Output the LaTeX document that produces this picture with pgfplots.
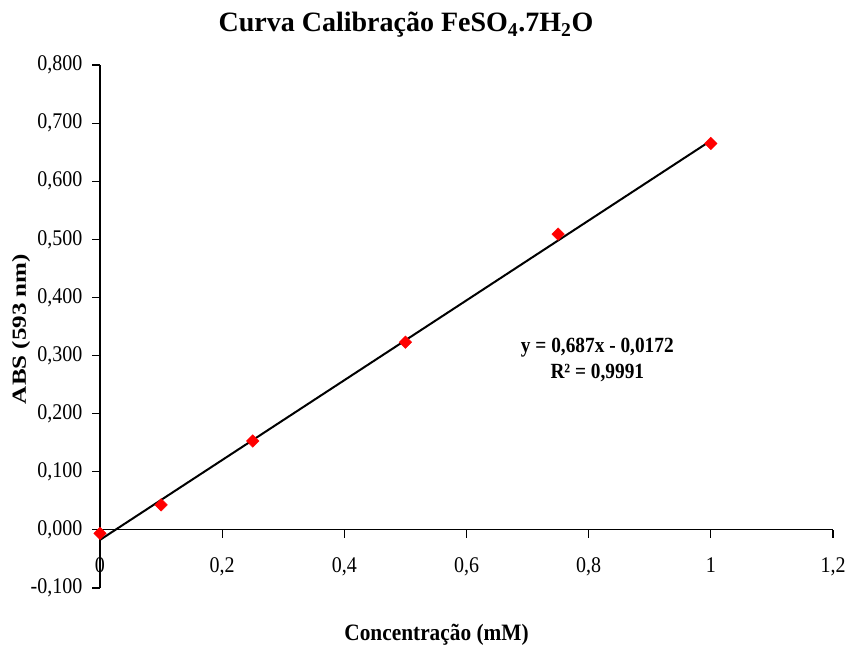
\documentclass[border=0pt]{standalone}
\usepackage{fontspec}
\setmainfont{Liberation Serif}
\usepackage{pgfplots}
\pgfplotsset{compat=1.18}
\begin{document}
\begin{tikzpicture}
\useasboundingbox (-75pt,-45pt) rectangle (558.75pt,441pt);
\begin{axis}[at={(0pt,0pt)}, anchor=south west, scale only axis,
  width=549.75pt, height=392.25pt,
  xmin=0, xmax=1.2, ymin=-0.1, ymax=0.8,
  axis x line=middle, axis y line=left,
  hide obscured x ticks=false,
  axis line style={black, line width=0.8pt, -},
  xtick={0,0.2,0.4,0.6,0.8,1,1.2},
  ytick={-0.1,0,0.1,0.2,0.3,0.4,0.5,0.6,0.7,0.8},
  tick align=outside, major tick length=6pt,
  tick style={black, line width=0.8pt},
  /pgf/number format/assume math mode=true,
  ticklabel style={font=\fontsize{15}{18}\selectfont},
  xticklabel={\scalebox{1}[1.12]{\pgfmathprintnumber[use comma, fixed, precision=1]{\tick}}},
  yticklabel={\scalebox{1}[1.12]{\pgfmathprintnumber[use comma, fixed, fixed zerofill, precision=3]{\tick}}},
  xticklabel style={yshift=-11pt},
  yticklabel style={xshift=-3.75pt},
  clip=false,
]
\addplot[black, line width=1.5pt] coordinates {(0,-0.0172) (1,0.6698)};
\addplot[only marks, mark=square*, mark size=3.3pt, mark options={rotate=45, fill=red, draw=red}, color=red] coordinates {
(0,-0.006) (0.1,0.043) (0.25,0.153) (0.5,0.323) (0.75,0.509) (1.0,0.665)};
\end{axis}
\node[anchor=base, font=\bfseries\fontsize{21}{24}\selectfont] at (229.5pt,417pt) {Curva Calibração FeSO\textsubscript{4}.7H\textsubscript{2}O};
\node[anchor=base, font=\bfseries\fontsize{16}{19}\selectfont] at (252.4pt,-39.75pt) {\scalebox{1}[1.1]{Concentração (mM)}};
\node[rotate=90, anchor=center, font=\bfseries\fontsize{15}{18}\selectfont] at (-59.25pt,194.25pt) {\scalebox{1.25}[1]{ABS (593 nm)}};
\node[align=center, font=\bfseries\fontsize{14.5}{19.5}\selectfont] at (373pt,171pt) {\scalebox{1}[1.12]{y = 0,687x - 0,0172}\\\scalebox{1}[1.12]{R² = 0,9991}};
\end{tikzpicture}
\end{document}
